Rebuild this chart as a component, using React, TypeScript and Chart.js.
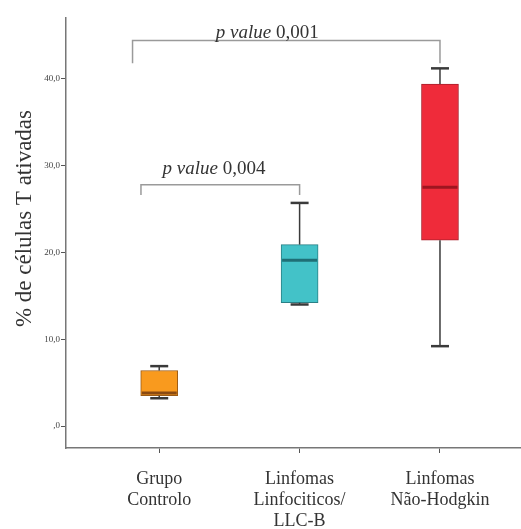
import React, { useEffect, useRef } from 'react';
import { Chart, registerables } from 'chart.js';

Chart.register(...registerables);

// ---- data ----
const categories = [1, 2, 3];
const xLabels = [
  ['Grupo', 'Controlo'],
  ['Linfomas', 'Linfociticos/', 'LLC-B'],
  ['Linfomas', 'Não-Hodgkin'],
];
const whiskerMin = [3.2, 14.0, 9.2];
const q1 = [3.5, 14.2, 21.4];
const median = [3.8, 19.1, 27.5];
const q3 = [6.4, 20.9, 39.4];
const whiskerMax = [6.9, 25.7, 41.2];

const yTicks = [0, 10, 20, 30, 40];
const yTitle = '% de células T ativadas';

// significance brackets
const bracketLeft = [0.81, 0.87];
const bracketRight = [3.0, 2.0];
const bracketTop = [44.4, 27.8];
const bracketDrop = [41.8, 26.6];
const pTextX = [1.77, 1.39];
const pTextY = [45.3, 29.6];
const pValues = ['0,001', '0,004'];

// ---- styles ----
const FONT = "'Liberation Serif', 'Times New Roman', serif";
const boxColors = ['#f99a1e', '#43c2c8', '#ef2b3a'];
const boxBorders = ['#9a5a16', '#2a8086', '#a8202c'];
const medianColors = ['#8a4a12', '#1f6f76', '#9e1620'];

export default function App() {
  const ref = useRef<HTMLCanvasElement>(null);

  useEffect(() => {
    if (!ref.current) return;

    const extras = {
      id: 'boxExtras',
      afterDatasetsDraw(chart: any) {
        const { ctx, scales } = chart;
        const x = scales.x;
        const y = scales.y;
        const line = (x1: number, y1: number, x2: number, y2: number) => {
          ctx.beginPath();
          ctx.moveTo(x1, y1);
          ctx.lineTo(x2, y2);
          ctx.stroke();
        };
        ctx.save();
        categories.forEach((c, i) => {
          const cx = x.getPixelForValue(c);
          ctx.strokeStyle = '#3a3a3a';
          ctx.lineWidth = 1.5;
          line(cx, y.getPixelForValue(q3[i]), cx, y.getPixelForValue(whiskerMax[i]));
          line(cx, y.getPixelForValue(q1[i]), cx, y.getPixelForValue(whiskerMin[i]));
          ctx.lineWidth = 2.5;
          const capHalf = 9;
          line(cx - capHalf, y.getPixelForValue(whiskerMax[i]), cx + capHalf, y.getPixelForValue(whiskerMax[i]));
          line(cx - capHalf, y.getPixelForValue(whiskerMin[i]), cx + capHalf, y.getPixelForValue(whiskerMin[i]));
          ctx.strokeStyle = medianColors[i];
          ctx.lineWidth = 3;
          const half = 17.5;
          line(cx - half, y.getPixelForValue(median[i]), cx + half, y.getPixelForValue(median[i]));
        });

        // brackets
        ctx.strokeStyle = '#9a9a9a';
        ctx.lineWidth = 1.5;
        bracketLeft.forEach((l, i) => {
          const xl = x.getPixelForValue(l);
          const xr = x.getPixelForValue(bracketRight[i]);
          const yt = y.getPixelForValue(bracketTop[i]);
          const yd = y.getPixelForValue(bracketDrop[i]);
          ctx.beginPath();
          ctx.moveTo(xl, yd);
          ctx.lineTo(xl, yt);
          ctx.lineTo(xr, yt);
          ctx.lineTo(xr, yd);
          ctx.stroke();

          // p value text
          const italic = 'p value';
          const rest = ' ' + pValues[i];
          ctx.fillStyle = '#333';
          ctx.textBaseline = 'middle';
          ctx.textAlign = 'left';
          ctx.font = `italic 19px ${FONT}`;
          const w1 = ctx.measureText(italic).width;
          ctx.font = `19px ${FONT}`;
          const w2 = ctx.measureText(rest).width;
          const cx = x.getPixelForValue(pTextX[i]);
          const cy = y.getPixelForValue(pTextY[i]);
          const sx = cx - (w1 + w2) / 2;
          ctx.font = `italic 19px ${FONT}`;
          ctx.fillText(italic, sx, cy);
          ctx.font = `19px ${FONT}`;
          ctx.fillText(rest, sx + w1, cy);
        });

        // y axis title
        ctx.save();
        ctx.translate(y.left + 25, y.getPixelForValue(23.9));
        ctx.rotate(-Math.PI / 2);
        ctx.font = `23px ${FONT}`;
        ctx.fillStyle = '#333';
        ctx.textAlign = 'center';
        ctx.textBaseline = 'middle';
        ctx.fillText(yTitle, 0, 0);
        ctx.restore();

        ctx.restore();
      },
    };

    const chart = new Chart(ref.current, {
      type: 'bar',
      data: {
        datasets: [
          {
            data: categories.map((c, i) => ({ x: c, y: [q1[i], q3[i]] })) as any,
            backgroundColor: boxColors,
            borderColor: boxBorders,
            borderWidth: 1,
            borderSkipped: false,
            barThickness: 37,
          },
        ],
      },
      options: {
        animation: false,
        responsive: true,
        maintainAspectRatio: false,
        layout: { padding: { top: 18, right: 1, left: 0, bottom: 0 } },
        plugins: { legend: { display: false }, tooltip: { enabled: false } },
        scales: {
          x: {
            type: 'linear',
            offset: false,
            min: 0.336,
            max: 3.57,
            afterBuildTicks: (s: any) => {
              s.ticks = categories.map((v) => ({ value: v }));
            },
            ticks: {
              callback: (v: any) => {
                const idx = categories.indexOf(Number(v));
                return idx >= 0 ? xLabels[idx] : '';
              },
              font: { family: FONT, size: 18, lineHeight: 1.17 },
              color: '#333',
              padding: 16,
              maxRotation: 0,
              autoSkip: false,
            },
            grid: { offset: false, drawOnChartArea: false, drawTicks: true, tickLength: 5, tickColor: '#555' },
            border: { color: '#777', width: 1.5 },
            afterFit: (s: any) => {
              s.height = 81;
            },
          },
          y: {
            type: 'linear',
            min: -2.53,
            max: 47,
            afterBuildTicks: (s: any) => {
              s.ticks = yTicks.map((v) => ({ value: v }));
            },
            ticks: {
              callback: (v: any) => (Number(v) === 0 ? ',0' : Number(v).toFixed(1).replace('.', ',')),
              font: { family: FONT, size: 9 },
              color: '#444',
              padding: 1,
            },
            grid: { drawOnChartArea: false, drawTicks: true, tickLength: 5, tickColor: '#555' },
            border: { color: '#777', width: 1.5 },
            afterFit: (s: any) => {
              s.width = 66;
            },
          },
        },
      },
      plugins: [extras],
    });

    return () => chart.destroy();
  }, []);

  return (
    <div style={{ position: 'absolute', left: 0, top: 0, width: 521, height: 529, background: '#fff' }}>
      <canvas ref={ref} />
    </div>
  );
}
